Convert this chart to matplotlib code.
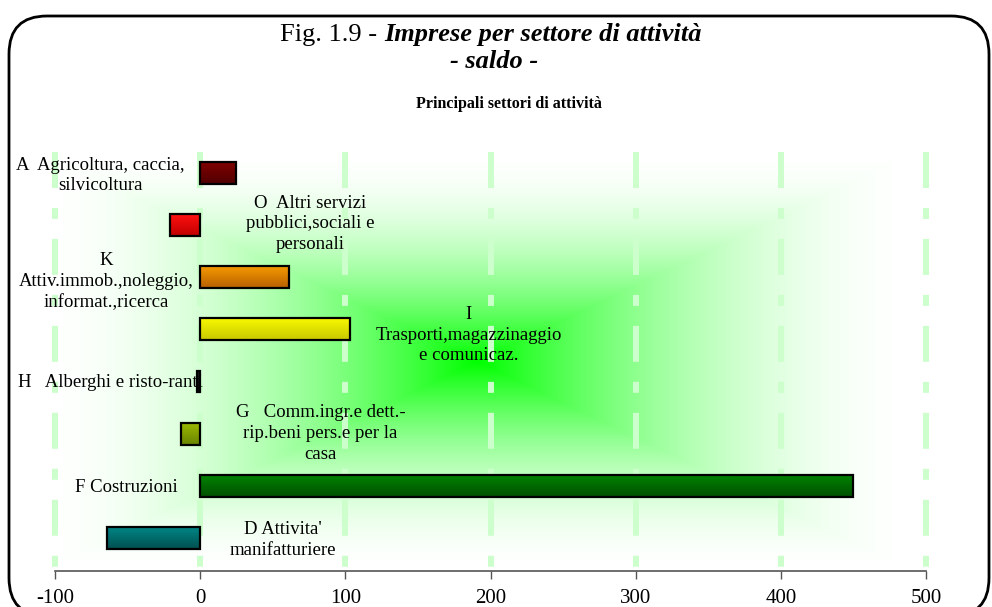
import numpy as np
import matplotlib.pyplot as plt
from matplotlib.patches import FancyBboxPatch
from matplotlib.colors import to_rgb

plt.rcParams['font.family'] = ['Liberation Serif', 'DejaVu Serif']
plt.rcParams['lines.scale_dashes'] = False
plt.rcParams['axes.unicode_minus'] = False

# dati (dal basso verso l'alto)
settori = [
    "D Attivita'\nmanifatturiere",
    "F Costruzioni",
    "G   Comm.ingr.e dett.-\nrip.beni pers.e per la\ncasa",
    "H   Alberghi e risto-ranti",
    "I\nTrasporti,magazzinaggio\ne comunicaz.",
    "K\nAttiv.immob.,noleggio,\ninformat.,ricerca",
    "O  Altri servizi\npubblici,sociali e\npersonali",
    "A  Agricoltura, caccia,\nsilvicoltura",
]
saldo = [-64, 450, -13, -2, 103, 61, -21, 25]
xticks = [-100, 0, 100, 200, 300, 400, 500]

# colori barre (alto, basso) per il gradiente
col_top = ["#008585", "#008200", "#9ab800", "#202020", "#f8f800", "#f59a00", "#ff1010", "#800000"]
col_bot = ["#005050", "#005000", "#6a8400", "#000000", "#c8c800", "#b86000", "#c00000", "#500000"]

# posizione delle etichette (x in unita' dati, y in indice categoria)
lab_x = [57, -51, 83, -62, 185, -65, 76, -69]
lab_y = [-0.04, 0.96, 2.01, 2.98, 3.89, 4.91, 6.02, 6.95]

W, H = 992, 607
fig = plt.figure(figsize=(W / 100, H / 100), dpi=100)

# cornice arrotondata
bg = fig.add_axes([0, 0, 1, 1])
bg.set_xlim(0, W)
bg.set_ylim(H, 0)
bg.axis('off')
bg.add_patch(FancyBboxPatch((9, 16), 980, 600, boxstyle="round,pad=0,rounding_size=38",
                            fc='white', ec='black', lw=2))

# titoli
fig.text(384 / W, 1 - 35 / H, "Fig. 1.9 - ", ha='right', va='center', fontsize=19)
fig.text(384 / W, 1 - 35 / H, "Imprese per settore di attività", ha='left', va='center',
         fontsize=19, fontweight='bold', fontstyle='italic')
fig.text(494 / W, 1 - 62 / H, "- saldo -", ha='center', va='center',
         fontsize=19, fontweight='bold', fontstyle='italic')
fig.text(509 / W, 1 - 104 / H, "Principali settori di attività", ha='center', va='center',
         fontsize=11.5, fontweight='bold')

# area del grafico
x0, x1, ytop, ybot = 55, 926, 152, 571
ax = fig.add_axes([x0 / W, (H - ybot) / H, (x1 - x0) / W, (ybot - ytop) / H])
ax.patch.set_alpha(0)

ylo, yhi = -0.633, 7.40

# sfondo a gradiente rettangolare dal centro
u = np.linspace(-1, 1, 500)
v = np.linspace(-1, 1, 250)
U, V = np.meshgrid(u, v)
t = np.maximum(np.abs(U + 0.03), np.abs(V))
g = np.clip(1 - t, 0, 1) ** 1.8
img = np.ones((v.size, u.size, 3))
img[..., 0] = 1 - g
img[..., 2] = 1 - g
ax.imshow(img, extent=[0, 1, 0, 1], transform=ax.transAxes, aspect='auto',
          interpolation='bilinear', zorder=0)

# griglia tratteggiata
for xv in xticks:
    ax.plot([xv, xv], [yhi, ylo], color='#ccffcc', lw=4.3, solid_capstyle='butt',
            linestyle=(0, (25.9, 14.4, 7.9, 14.4)), zorder=1, clip_on=False)

# barre con gradiente verticale
ypos = np.arange(len(saldo))
bh = 0.42
bars = ax.barh(ypos, saldo, height=bh, color='none', edgecolor='black', lw=1.6, zorder=3)
for b, ct, cb in zip(bars, col_top, col_bot):
    bx, by, bw, bhh = b.get_x(), b.get_y(), b.get_width(), b.get_height()
    c1, c2 = np.array(to_rgb(ct)), np.array(to_rgb(cb))
    s = np.linspace(0, 1, 50)[:, None]
    grad = (c1 * (1 - s) + c2 * s)[:, None, :]
    ax.imshow(grad, extent=[bx, bx + bw, by, by + bhh], aspect='auto',
              interpolation='bilinear', zorder=2, origin='upper')

# etichette
for name, lx, ly in zip(settori, lab_x, lab_y):
    ax.text(lx, ly, name, ha='center', va='center', multialignment='center',
            fontsize=13.5, linespacing=1.3, zorder=4)

ax.set_xlim(-100, 500)
ax.set_ylim(ylo, yhi)
ax.set_xticks(xticks)
ax.set_yticks([])
for sp in ['left', 'right', 'top']:
    ax.spines[sp].set_visible(False)
ax.spines['bottom'].set_color('#555555')
ax.spines['bottom'].set_linewidth(1.2)
ax.tick_params(axis='x', direction='out', length=6, width=1, color='#555555',
               labelsize=15, pad=7)

fig.savefig("out.png", dpi=100)
